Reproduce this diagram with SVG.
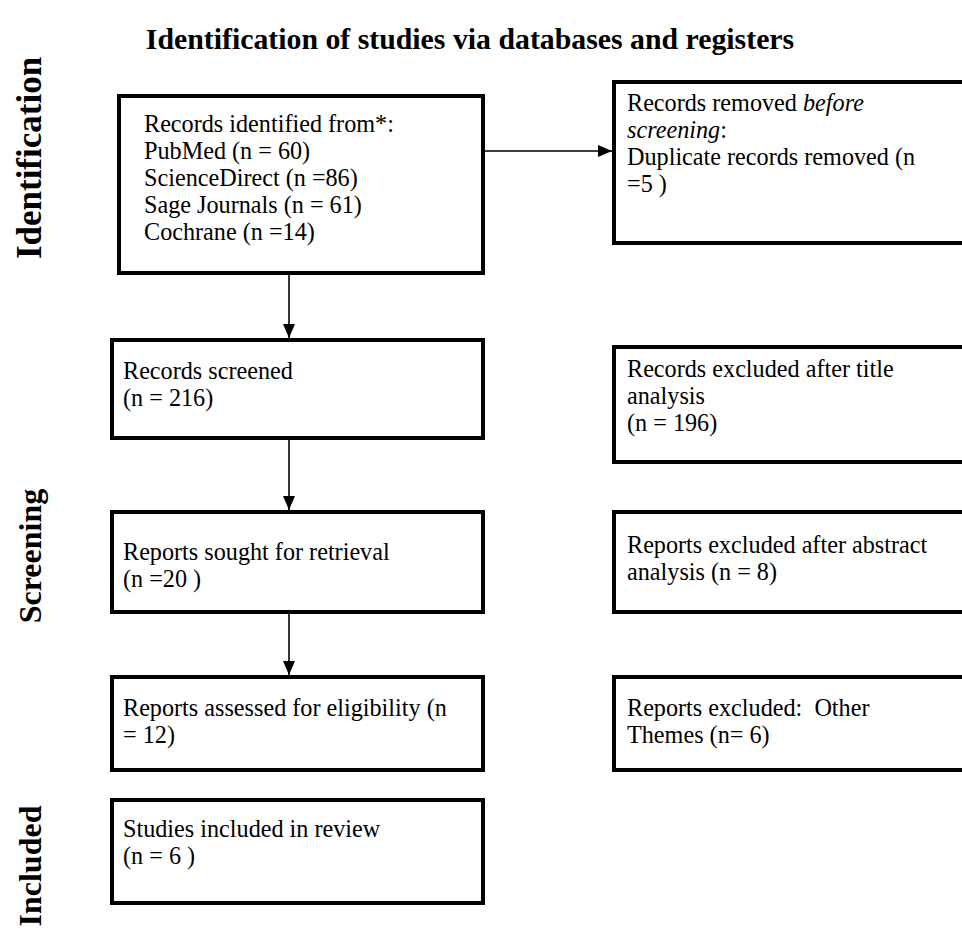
<svg xmlns="http://www.w3.org/2000/svg" width="962" height="932" viewBox="0 0 962 932">
<style>
.box{fill:#fff;stroke:#000;stroke-width:4}
.t{font-family:"Liberation Serif","Times New Roman",serif;font-size:24.2px;fill:#000}
.title{font-family:"Liberation Serif","Times New Roman",serif;font-size:29.8px;font-weight:bold;fill:#000}
.side{font-family:"Liberation Serif","Times New Roman",serif;font-size:32px;font-weight:bold;fill:#000}
.conn{stroke:#000;stroke-width:1.6;fill:none}
</style>
<defs>
<marker id="ah" markerWidth="14" markerHeight="12" refX="14" refY="6" orient="auto" markerUnits="userSpaceOnUse" viewBox="0 0 14 12">
<path d="M0,0 L14,6 L0,12 z" fill="#000"/>
</marker>
</defs>
<rect width="962" height="932" fill="#fff"/>
<text class="title" x="470" y="49" text-anchor="middle">Identification of studies via databases and registers</text>
<g id="side-labels">
<text class="side" transform="translate(41,158) rotate(-90)" text-anchor="middle" style="font-size:35px">Identification</text>
<text class="side" transform="translate(41,556) rotate(-90)" text-anchor="middle">Screening</text>
<text class="side" transform="translate(41,866) rotate(-90)" text-anchor="middle">Included</text>
</g>
<g id="connectors">
<line class="conn" x1="485" y1="151" x2="612" y2="151" marker-end="url(#ah)"/>
<line class="conn" x1="289" y1="275" x2="289" y2="338" marker-end="url(#ah)"/>
<line class="conn" x1="289" y1="440" x2="289" y2="510" marker-end="url(#ah)"/>
<line class="conn" x1="289" y1="612" x2="289" y2="675" marker-end="url(#ah)"/>
</g>
<g id="identified">
<rect class="box" x="119" y="96" width="364" height="177"/>
<text class="t"><tspan x="144" y="132">Records identified from*:</tspan><tspan x="144" y="159">PubMed (n = 60)</tspan><tspan x="144" y="186">ScienceDirect (n =86)</tspan><tspan x="144" y="213">Sage Journals (n = 61)</tspan><tspan x="144" y="240">Cochrane (n =14)</tspan></text>
</g>
<g id="removed">
<rect class="box" x="614" y="82" width="360" height="161"/>
<text class="t"><tspan x="627" y="111">Records removed <tspan font-style="italic">before</tspan></tspan><tspan x="627" y="138"><tspan font-style="italic">screening</tspan>:</tspan><tspan x="627" y="165">Duplicate records removed (n</tspan><tspan x="627" y="192">=5 )</tspan></text>
</g>
<g id="screened">
<rect class="box" x="112" y="340" width="371" height="98"/>
<text class="t"><tspan x="123" y="379">Records screened</tspan><tspan x="123" y="406">(n = 216)</tspan></text>
</g>
<g id="excluded-title">
<rect class="box" x="614" y="347" width="360" height="115"/>
<text class="t"><tspan x="627" y="377">Records excluded after title</tspan><tspan x="627" y="404">analysis</tspan><tspan x="627" y="431">(n = 196)</tspan></text>
</g>
<g id="sought">
<rect class="box" x="112" y="512" width="371" height="100"/>
<text class="t"><tspan x="123" y="560">Reports sought for retrieval</tspan><tspan x="123" y="587">(n =20 )</tspan></text>
</g>
<g id="excluded-abstract">
<rect class="box" x="614" y="512" width="360" height="100"/>
<text class="t"><tspan x="627" y="553">Reports excluded after abstract</tspan><tspan x="627" y="580">analysis (n = 8)</tspan></text>
</g>
<g id="assessed">
<rect class="box" x="112" y="677" width="371" height="93"/>
<text class="t"><tspan x="123" y="716">Reports assessed for eligibility (n</tspan><tspan x="123" y="743">= 12)</tspan></text>
</g>
<g id="excluded-other">
<rect class="box" x="614" y="677" width="360" height="93"/>
<text class="t" xml:space="preserve"><tspan x="627" y="716">Reports excluded:  Other</tspan><tspan x="627" y="743">Themes (n= 6)</tspan></text>
</g>
<g id="included">
<rect class="box" x="112" y="800" width="371" height="103"/>
<text class="t"><tspan x="123" y="837">Studies included in review</tspan><tspan x="123" y="864">(n = 6 )</tspan></text>
</g>
</svg>
